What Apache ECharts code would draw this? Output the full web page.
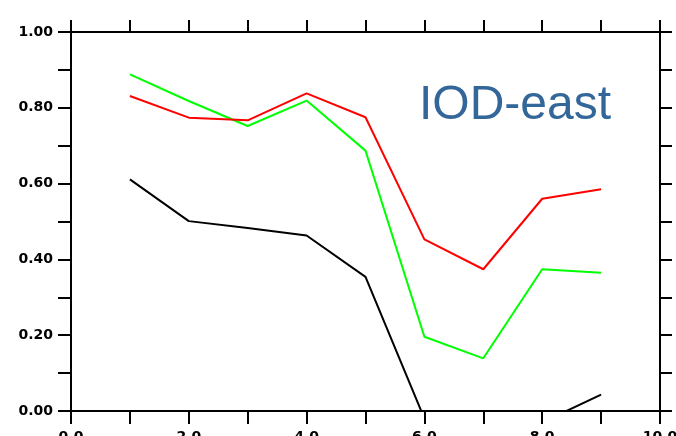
<!DOCTYPE html>
<html>
<head>
<meta charset="utf-8">
<script src="https://cdn.jsdelivr.net/npm/echarts@6/dist/echarts.min.js"></script>
<style>
  html, body { margin: 0; padding: 0; background: #fff; }
  #chart { width: 676px; height: 436px; }
</style>
</head>
<body>
<div id="chart"></div>
<script>
// Positions along the x axis where each curve has a value
const xs = [1, 2, 3, 4, 5, 6, 7, 8, 9];
// Correlation curves
const redValues = [0.831, 0.774, 0.767, 0.838, 0.775, 0.453, 0.374, 0.560, 0.585];
const greenValues = [0.888, 0.818, 0.752, 0.819, 0.687, 0.196, 0.139, 0.374, 0.365];
const blackValues = [0.611, 0.501, 0.483, 0.463, 0.354, -0.020, -0.070, -0.030, 0.043];
// Tick labels
const xTickLabels = ['0.0', '2.0', '4.0', '6.0', '8.0', '10.0'];
const yTickLabels = ['0.00', '0.20', '0.40', '0.60', '0.80', '1.00'];

const pairs = vals => xs.map((x, i) => [x, vals[i]]);

const axisLineStyle = { color: '#000', width: 2 };
const tickStyle = { color: '#000', width: 2 };
const labelFont = { fontFamily: 'DejaVu Sans', fontWeight: 'bold', fontSize: 14, color: '#000' };

const chart = echarts.init(document.getElementById('chart'), null, { renderer: 'canvas' });
chart.setOption({
  animation: false,
  backgroundColor: '#fff',
  grid: { left: 71, right: 16, top: 32, bottom: 25, containLabel: false, outerBoundsMode: 'none' },
  xAxis: [
    {
      type: 'value', min: 0, max: 10, interval: 1, position: 'bottom',
      axisLine: { show: true, onZero: false, lineStyle: axisLineStyle },
      axisTick: { show: true, length: 13, lineStyle: tickStyle },
      splitLine: { show: false },
      axisLabel: Object.assign({
        margin: 19,
        formatter: v => (v % 2 === 0 ? xTickLabels[v / 2] : '')
      }, labelFont)
    },
    {
      type: 'value', min: 0, max: 10, interval: 1, position: 'top',
      axisLine: { show: true, onZero: false, lineStyle: axisLineStyle },
      axisTick: { show: true, length: 12, lineStyle: tickStyle },
      splitLine: { show: false },
      axisLabel: { show: false }
    }
  ],
  yAxis: [
    {
      type: 'value', min: 0, max: 1, interval: 0.1, position: 'left',
      axisLine: { show: true, onZero: false, lineStyle: axisLineStyle },
      axisTick: { show: true, length: 13, lineStyle: tickStyle },
      splitLine: { show: false },
      axisLabel: Object.assign({
        margin: 18,
        formatter: v => {
          const k = Math.round(v * 10);
          return k % 2 === 0 ? yTickLabels[k / 2] : '';
        }
      }, labelFont)
    },
    {
      type: 'value', min: 0, max: 1, interval: 0.1, position: 'right',
      axisLine: { show: true, onZero: false, lineStyle: axisLineStyle },
      axisTick: { show: true, length: 12, lineStyle: tickStyle },
      splitLine: { show: false },
      axisLabel: { show: false }
    }
  ],
  series: [
    { type: 'line', data: pairs(blackValues), showSymbol: false, clip: true,
      lineStyle: { color: '#000', width: 2 } },
    { type: 'line', data: pairs(greenValues), showSymbol: false, clip: true,
      lineStyle: { color: '#00ff00', width: 2 } },
    { type: 'line', data: pairs(redValues), showSymbol: false, clip: true,
      lineStyle: { color: '#ff0000', width: 2 } }
  ],
  graphic: [
    {
      type: 'text', left: 419, top: 82,
      style: {
        text: 'IOD-east',
        fill: '#336699',
        font: '48px "Liberation Sans", Arial, sans-serif'
      }
    }
  ]
});
</script>
</body>
</html>
